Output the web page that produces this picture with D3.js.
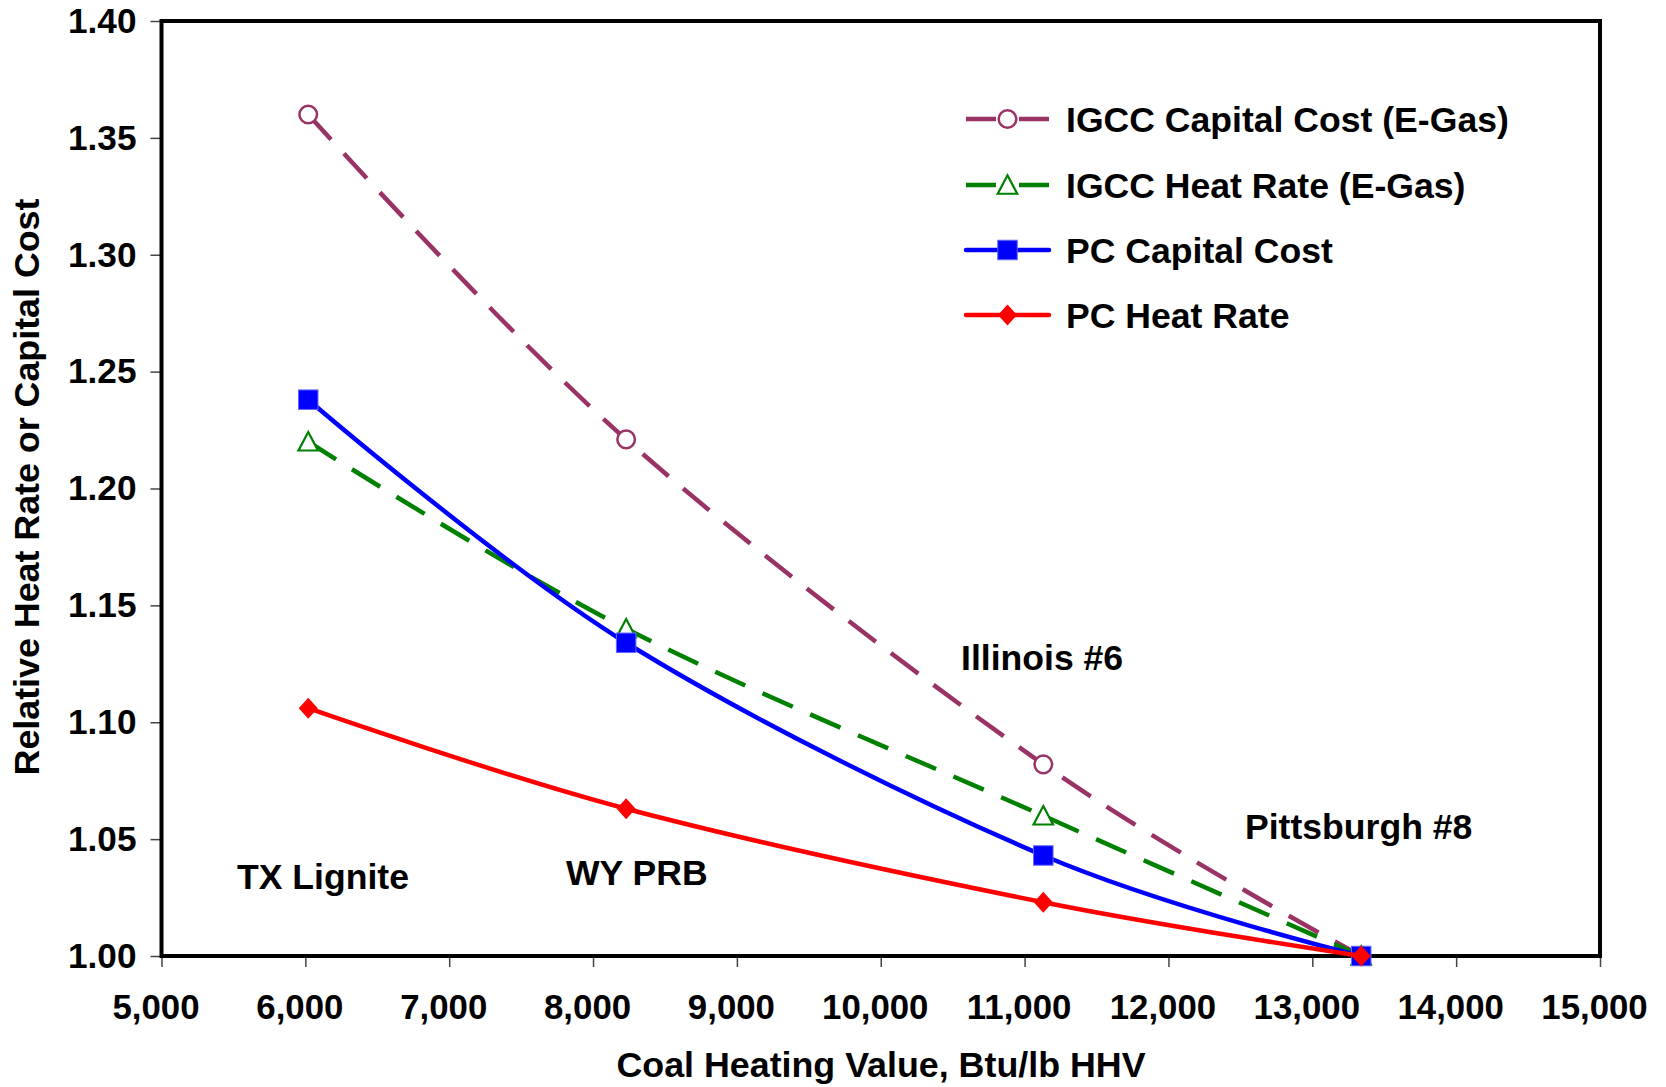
<!DOCTYPE html>
<html>
<head>
<meta charset="utf-8">
<script src="https://cdn.jsdelivr.net/npm/d3@7"></script>
<style>
  html, body { margin: 0; padding: 0; background: #fff; }
  svg { display: block; }
  text { font-family: "Liberation Sans", Arial, sans-serif; font-weight: bold; fill: #000; }
</style>
</head>
<body>
<svg id="chart" width="1666" height="1087"></svg>
<script>
// ---- data ----
const coals = ["TX Lignite", "WY PRB", "Illinois #6", "Pittsburgh #8"];
const heatingValues = [6020, 8230, 11130, 13340];
const igccCapital = [1.360, 1.221, 1.082, 1.000];
const igccHeatRate = [1.220, 1.140, 1.060, 1.000];
const pcCapital = [1.238, 1.134, 1.043, 1.000];
const pcHeatRate = [1.106, 1.063, 1.023, 1.000];
const seriesNames = ["IGCC Capital Cost (E-Gas)", "IGCC Heat Rate (E-Gas)", "PC Capital Cost", "PC Heat Rate"];
const xTicks = [5000, 6000, 7000, 8000, 9000, 10000, 11000, 12000, 13000, 14000, 15000];
const yTicks = [1.00, 1.05, 1.10, 1.15, 1.20, 1.25, 1.30, 1.35, 1.40];
const xTitle = "Coal Heating Value, Btu/lb HHV";
const yTitle = "Relative Heat Rate or Capital Cost";

// ---- layout ----
const L = 161.5, R = 1600, T = 21, B = 956;
const svg = d3.select("#chart");
const x = d3.scaleLinear().domain([5000, 15000]).range([L, R]);
const y = d3.scaleLinear().domain([1.0, 1.4]).range([B, T]);

const series = [
  { name: seriesNames[0], values: igccCapital, color: "#993366", dash: "34,19", marker: "circle" },
  { name: seriesNames[1], values: igccHeatRate, color: "#008000", dash: "33,19", marker: "triangle" },
  { name: seriesNames[2], values: pcCapital, color: "#0000FF", dash: null, marker: "square" },
  { name: seriesNames[3], values: pcHeatRate, color: "#FF0000", dash: null, marker: "diamond" }
];

// axes
const fmt = d3.format(",");
const xAxis = svg.append("g").attr("transform", `translate(0,${B})`)
  .call(d3.axisBottom(x).tickValues(xTicks).tickFormat(fmt).tickSize(11).tickPadding(27));
xAxis.selectAll("text").attr("font-size", 34.8).attr("dx", -6);
const yAxis = svg.append("g").attr("transform", `translate(${L},0)`)
  .call(d3.axisLeft(y).tickValues(yTicks).tickFormat(d3.format(".2f")).tickSize(11).tickPadding(14));
yAxis.selectAll("text").attr("font-size", 35.2);
[xAxis, yAxis].forEach(a => {
  a.select(".domain").remove();
  a.selectAll(".tick line").attr("stroke", "#444").attr("stroke-width", 1.5);
  a.selectAll("text").attr("font-family", "Liberation Sans, Arial, sans-serif").attr("font-weight", "bold").attr("fill", "#000");
});

// frame
svg.append("rect").attr("x", L).attr("y", T).attr("width", R - L).attr("height", B - T)
  .attr("fill", "none").attr("stroke", "#000").attr("stroke-width", 4);

// titles
svg.append("text").attr("x", 881).attr("y", 1077).attr("text-anchor", "middle")
  .attr("font-size", 35.8).text(xTitle);
svg.append("text").attr("transform", "translate(39,487) rotate(-90)").attr("text-anchor", "middle")
  .attr("font-size", 35.8).text(yTitle);

// marker drawing
function drawMarker(g, type, color, cx, cy) {
  if (type === "circle") {
    g.append("circle").attr("cx", cx).attr("cy", cy).attr("r", 8.8)
      .attr("fill", "#fff").attr("stroke", color).attr("stroke-width", 2.5);
  } else if (type === "triangle") {
    const s = 19.5, h = 17.5;
    g.append("path").attr("d", `M${cx},${cy - h / 2 - 1}L${cx + s / 2},${cy + h / 2}L${cx - s / 2},${cy + h / 2}Z`)
      .attr("fill", "#fff").attr("stroke", color).attr("stroke-width", 2.2);
  } else if (type === "square") {
    const s = 19.5;
    g.append("rect").attr("x", cx - s / 2).attr("y", cy - s / 2).attr("width", s).attr("height", s)
      .attr("fill", color).attr("stroke", "#6666ff").attr("stroke-width", 1);
  } else if (type === "diamond") {
    g.append("path").attr("d", `M${cx},${cy - 10.5}L${cx + 9.5},${cy}L${cx},${cy + 10.5}L${cx - 9.5},${cy}Z`)
      .attr("fill", color);
  }
}

// lines
const line = d3.line().x(d => x(d[0])).y(d => y(d[1])).curve(d3.curveCardinal.tension(0));
series.forEach(s => {
  const pts = heatingValues.map((hv, i) => [hv, s.values[i]]);
  const g = svg.append("g");
  g.append("path").attr("d", line(pts)).attr("fill", "none").attr("stroke", s.color)
    .attr("stroke-width", 4.5).attr("stroke-dasharray", s.dash).attr("stroke-linecap", "butt");
  pts.forEach(p => drawMarker(g, s.marker, s.color, x(p[0]), y(p[1])));
});

// legend
const legY = [119, 185, 250, 315];
series.forEach((s, i) => {
  const g = svg.append("g");
  const yy = legY[i];
  if (s.dash) {
    g.append("line").attr("x1", 966).attr("x2", 996).attr("y1", yy).attr("y2", yy)
      .attr("stroke", s.color).attr("stroke-width", 4.5);
    g.append("line").attr("x1", 1019).attr("x2", 1049).attr("y1", yy).attr("y2", yy)
      .attr("stroke", s.color).attr("stroke-width", 4.5);
  } else {
    g.append("line").attr("x1", 966).attr("x2", 1049).attr("y1", yy).attr("y2", yy)
      .attr("stroke", s.color).attr("stroke-width", 4.5).attr("stroke-linecap", "round");
  }
  drawMarker(g, s.marker, s.color, 1007.5, yy);
  g.append("text").attr("x", 1066).attr("y", yy + 12.5).attr("font-size", 35.6).text(s.name);
});

// coal annotations
const annPos = [[237, 889], [566, 885], [961, 670], [1245, 839]];
coals.forEach((c, i) => {
  svg.append("text").attr("x", annPos[i][0]).attr("y", annPos[i][1]).attr("font-size", 35.6).text(c);
});
</script>
</body>
</html>
